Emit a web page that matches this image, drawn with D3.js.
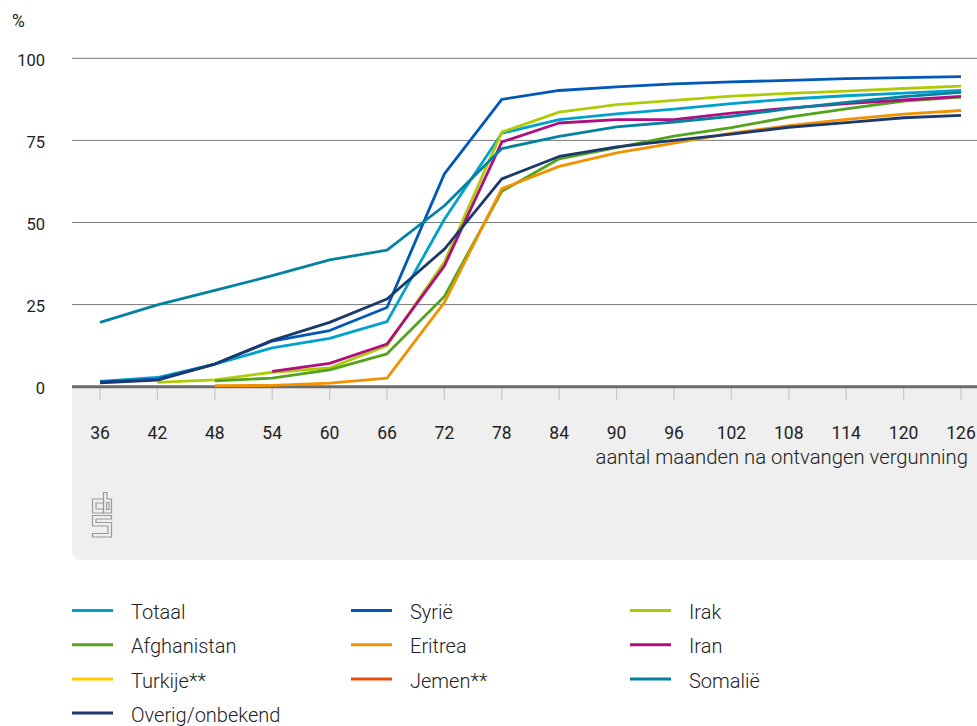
<!DOCTYPE html>
<html><head><meta charset="utf-8">
<script src="https://cdn.jsdelivr.net/npm/d3@7"></script>
<style>
html,body{margin:0;padding:0;background:#fff;}
svg{display:block;font-family:Roboto,"Noto Sans",sans-serif;}
</style></head>
<body><svg id="chart" width="977" height="726"></svg>
<script>
const months = [36,42,48,54,60,66,72,78,84,90,96,102,108,114,120,126];
const yTicks = [0,25,50,75,100];
const seriesNames = ["Totaal","Syrië","Irak","Afghanistan","Eritrea","Iran","Turkije**","Jemen**","Somalië","Overig/onbekend"];
const colors = ["#00a1cd","#0058b8","#afcb05","#53a31d","#f39200","#af0e80","#ffcc00","#e94c0a","#0581a2","#1b3a6b"];
const totaal = [1.6,2.8,6.9,11.8,14.7,19.8,51.0,77.2,81.3,83.1,84.5,86.2,87.6,88.6,89.4,90.2];
const syrie = [1.5,2.3,6.9,13.9,17.1,24.1,64.8,87.5,90.2,91.3,92.2,92.8,93.3,93.8,94.1,94.4];
const irak = [null,1.3,2.1,4.4,5.7,12.5,38.0,77.5,83.6,85.9,87.2,88.5,89.3,90.0,90.8,91.5];
const afghanistan = [null,null,1.8,2.6,5.1,10.0,27.5,59.5,69.4,72.8,76.3,78.9,82.1,84.6,87.0,88.2];
const eritrea = [null,null,0.3,0.4,1.1,2.6,25.7,60.3,67.1,71.2,74.2,77.2,79.5,81.4,83.0,84.1];
const iran = [null,null,null,4.7,7.1,13.0,36.8,74.5,80.3,81.3,81.3,83.3,84.8,86.2,87.3,88.4];
const turkije = months.map(()=>null);
const jemen = months.map(()=>null);
const somalie = [19.6,24.9,29.3,33.8,38.6,41.6,55.1,72.5,76.2,79.1,80.6,82.3,84.7,86.6,88.3,89.6];
const overig = [1.2,2.0,6.9,14.1,19.6,26.7,41.9,63.3,70.1,73.0,75.0,76.9,79.0,80.4,81.9,82.6];
const seriesValues = [totaal,syrie,irak,afghanistan,eritrea,iran,turkije,jemen,somalie,overig];

const svg = d3.select("#chart");
const x = d3.scaleLinear().domain([36,126]).range([100,961]);
const y = d3.scaleLinear().domain([0,100]).range([386.7,58.3]);
const left = 72, right = 977;

// gray band below axis
const bandTop = 388, bandBottom = 560, r = 10;
svg.append("path")
  .attr("d", `M${left},${bandTop} H${right} V${bandBottom} H${left+r} Q${left},${bandBottom} ${left},${bandBottom-r} Z`)
  .attr("fill","#efefef");

// gridlines
svg.append("g").selectAll("line").data(yTicks.filter(d=>d>0)).join("line")
  .attr("x1",left).attr("x2",right)
  .attr("y1",d=>y(d)).attr("y2",d=>y(d))
  .attr("stroke","#7a7a7a").attr("stroke-width",1);

// y labels
svg.append("g").selectAll("text").data(yTicks).join("text")
  .attr("x",45).attr("y",d=>y(d)+1.5).attr("dy","0.35em")
  .attr("text-anchor","end").attr("font-size",16.5).attr("fill","#222")
  .text(d=>d);
svg.append("text").attr("x",12).attr("y",21).attr("dy","0.35em")
  .attr("font-size",17.5).attr("fill","#222").text("%");

// x ticks in band
svg.append("g").selectAll("line").data(months).join("line")
  .attr("x1",d=>x(d)).attr("x2",d=>x(d))
  .attr("y1",bandTop).attr("y2",bandTop+12)
  .attr("stroke","#c8c8c8").attr("stroke-width",1.2);
svg.append("g").selectAll("text").data(months).join("text")
  .attr("x",d=>x(d)).attr("y",439)
  .attr("text-anchor","middle").attr("font-size",17.5).attr("fill","#222")
  .text(d=>d);
svg.append("text").attr("x",968).attr("y",463.5)
  .attr("text-anchor","end").attr("font-size",20.3).attr("font-weight",300).attr("fill","#222")
  .text("aantal maanden na ontvangen vergunning");

// zero line
svg.append("line").attr("x1",left).attr("x2",right)
  .attr("y1",y(0)).attr("y2",y(0))
  .attr("stroke","#6b6b6b").attr("stroke-width",3);

// cbs logo (simplified)
const logo = svg.append("g").attr("transform","translate(92,492)")
  .attr("fill","none").attr("stroke","#9a9a9a").attr("stroke-width",1.2);
logo.append("path").attr("d","M11.5,7 H0.5 V21 H11.5 V17 H4 V11 H11.5 Z");
logo.append("path").attr("d","M11.5,0.5 H15 V7 H19.5 V21 H11.5 Z M14.5,10.5 H17 V17.5 H14.5 Z");
logo.append("path").attr("d","M0.5,23.5 H19.5 V27 H4 V30.5 H19.5 V45 H0.5 V41.5 H16 V34 H0.5 Z");

// lines
const line = d3.line().defined(d=>d.v!=null).x(d=>x(d.m)).y(d=>y(d.v));
const g = svg.append("g");
seriesNames.forEach((name,i)=>{
  const data = months.map((m,j)=>({m, v: seriesValues[i][j]}));
  g.append("path").datum(data).attr("d",line)
    .attr("fill","none").attr("stroke",colors[i]).attr("stroke-width",2.8)
    .attr("stroke-linejoin","round");
});

// legend
const colX = [72,351,630];
const rowBase = [619,653.3,687.5,721.5];
const leg = svg.append("g");
seriesNames.forEach((name,i)=>{
  const cx = colX[i%3], by = rowBase[Math.floor(i/3)];
  leg.append("line").attr("x1",cx).attr("x2",cx+41).attr("y1",by-8.5).attr("y2",by-8.5)
    .attr("stroke",colors[i]).attr("stroke-width",3);
  leg.append("text").attr("x",cx+59).attr("y",by)
    .attr("font-size",20).attr("font-weight",300).attr("fill","#222").text(name);
});
</script></body></html>
